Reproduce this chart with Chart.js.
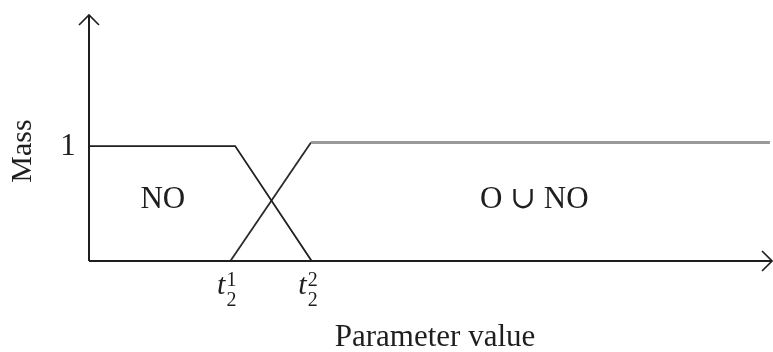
<!DOCTYPE html>
<html>
<head>
<meta charset="utf-8">
<script src="https://cdn.jsdelivr.net/npm/chart.js@4.4.1/dist/chart.umd.min.js"></script>
<style>
  body { margin: 0; background: #fff; }
  #wrap { width: 773px; height: 352px; position: relative; }
</style>
</head>
<body>
<div id="wrap"><canvas id="massChart"></canvas></div>
<script>
// mass functions over parameter value
const noX = [0, 2.14, 3.26];
const noY = [1, 1, 0];
const onoX = [2.07, 3.25, 9.97];
const onoY = [0, 1.03, 1.03];

// x tick marks: t_2^1, t_2^2
const tickX = [2.07, 3.26];
const tickSup = ["1", "2"];
const tickSub = ["2", "2"];
const yTicks = [1];

// region labels (data units)
const regionText = ["NO", "O \u222A NO"];
const regionX = [1.08, 6.52];
const regionY = [0.53, 0.53];

const SERIF = '"Liberation Serif", "DejaVu Serif", serif';
const INK = "#1e1e1e";

const toPts = (xs, ys) => xs.map((x, i) => ({ x: x, y: ys[i] }));

const axesPlugin = {
  id: "axesPlugin",
  afterDatasetsDraw(chart) {
    const c = chart.ctx;
    const xs = chart.scales.x, ys = chart.scales.y;
    const x0 = xs.getPixelForValue(0), y0 = ys.getPixelForValue(0);
    const xEnd = xs.getPixelForValue(xs.max), yEnd = ys.getPixelForValue(ys.max);
    c.save();
    c.strokeStyle = INK;
    c.lineWidth = 2;
    c.beginPath();
    c.moveTo(x0, y0); c.lineTo(x0, yEnd);
    c.moveTo(x0, y0); c.lineTo(xEnd, y0);
    c.stroke();
    c.lineWidth = 1.6;
    c.beginPath();
    c.moveTo(x0 - 10, yEnd + 10); c.lineTo(x0, yEnd); c.lineTo(x0 + 10, yEnd + 10);
    c.moveTo(xEnd - 10, y0 - 10); c.lineTo(xEnd, y0); c.lineTo(xEnd - 10, y0 + 10);
    c.stroke();

    c.fillStyle = INK;
    c.textBaseline = "middle";
    c.textAlign = "center";
    c.font = "31px " + SERIF;
    // y tick
    yTicks.forEach(v => c.fillText(String(v), 68, ys.getPixelForValue(v) + 1));
    // region labels
    regionText.forEach((t, i) => {
      c.fillText(t, xs.getPixelForValue(regionX[i]), ys.getPixelForValue(regionY[i]));
    });
    // axis titles
    c.fillText("Parameter value", 435, 338);
    c.save();
    c.translate(23, 151);
    c.rotate(-Math.PI / 2);
    c.font = "30px " + SERIF;
    c.fillText("Mass", 0, 0);
    c.restore();

    // x ticks t_2^k
    c.textBaseline = "alphabetic";
    tickX.forEach((v, i) => {
      const px = xs.getPixelForValue(v) - 4;
      c.textAlign = "right";
      c.font = "italic 30px " + SERIF;
      c.fillText("t", px - 1, 294);
      c.textAlign = "left";
      c.font = "20px " + SERIF;
      c.fillText(tickSup[i], px, 286);
      c.fillText(tickSub[i], px, 306);
    });
    c.restore();
  }
};

new Chart(document.getElementById("massChart"), {
  type: "scatter",
  data: {
    datasets: [
      {
        label: "NO",
        data: toPts(noX, noY),
        showLine: true,
        borderColor: INK,
        borderWidth: 1.8,
        pointRadius: 0,
        clip: false,
      },
      {
        label: "O \u222A NO",
        data: toPts(onoX, onoY),
        showLine: true,
        borderColor: "#999",
        borderWidth: 2.5,
        pointRadius: 0,
        clip: false,
        segment: {
          borderColor: ctx => ctx.p0DataIndex === 0 ? "#2a2a2a" : "#999",
          borderWidth: ctx => ctx.p0DataIndex === 0 ? 1.8 : 3,
        },
      },
    ],
  },
  options: {
    responsive: true,
    maintainAspectRatio: false,
    animation: false,
    layout: { padding: { left: 89, top: 15, right: 1, bottom: 91 } },
    plugins: { legend: { display: false }, tooltip: { enabled: false } },
    scales: {
      x: { type: "linear", min: 0, max: 10, display: false },
      y: { type: "linear", min: 0, max: 2.14, display: false },
    },
  },
  plugins: [axesPlugin],
});
</script>
</body>
</html>
